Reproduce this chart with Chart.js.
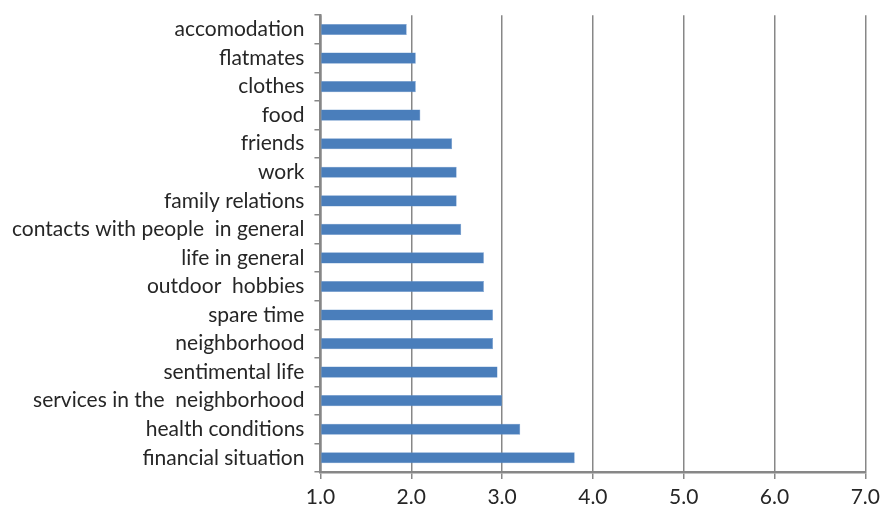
<!DOCTYPE html>
<html>
<head>
<meta charset="utf-8">
<script src="https://cdn.jsdelivr.net/npm/chart.js@4/dist/chart.umd.min.js"></script>
<style>
  html, body { margin: 0; padding: 0; background: #fff; }
  #wrap { width: 890px; height: 515px; }
</style>
</head>
<body>
<div id="wrap"><canvas id="myChart" width="890" height="515"></canvas></div>
<script>
// categories, top to bottom as shown
const categories = [
    'accomodation', 'flatmates', 'clothes', 'food', 'friends', 'work',
    'family relations', 'contacts with people  in general', 'life in general',
    'outdoor  hobbies', 'spare time', 'neighborhood', 'sentimental life',
    'services in the  neighborhood', 'health conditions', 'financial situation'
];
// mean scores
const scores = [1.95, 2.05, 2.05, 2.1, 2.45, 2.5, 2.5, 2.55, 2.8, 2.8, 2.9, 2.9, 2.95, 3.0, 3.2, 3.8];
const xMin = 1;
const xMax = 7;

const gray = '#878787';
const ctx = document.getElementById('myChart').getContext('2d');

new Chart(ctx, {
    type: 'bar',
    data: {
        labels: categories,
        datasets: [{
            data: scores,
            base: xMin,
            backgroundColor: '#4a7ebb',
            borderColor: '#6a96cc',
            borderWidth: 0.5,
            barPercentage: 0.78,
            categoryPercentage: 0.5
        }]
    },
    options: {
        indexAxis: 'y',
        responsive: false,
        animation: false,
        layout: { padding: { top: 4, right: 0, left: 2, bottom: 0 } },
        plugins: {
            legend: { display: false },
            tooltip: { enabled: false }
        },
        scales: {
            x: {
                min: xMin,
                max: xMax,
                ticks: {
                    stepSize: 1,
                    color: '#262626',
                    font: { family: 'Lato', size: 21, lineHeight: 0.76 },
                    padding: 10,
                    callback: (v) => v.toFixed(1)
                },
                grid: { color: gray, lineWidth: 1.5, tickLength: 7 },
                border: { color: gray, width: 2.5 }
            },
            y: {
                ticks: {
                    autoSkip: false,
                    color: '#262626',
                    // small lineHeight keeps the top margin tight
                    font: { family: 'Lato', size: 21, lineHeight: 0.5 },
                    padding: 10
                },
                grid: { drawOnChartArea: false, color: gray, lineWidth: 1.5, tickLength: 6, offset: true },
                border: { color: gray, width: 2.5 }
            }
        }
    }
});
</script>
</body>
</html>
